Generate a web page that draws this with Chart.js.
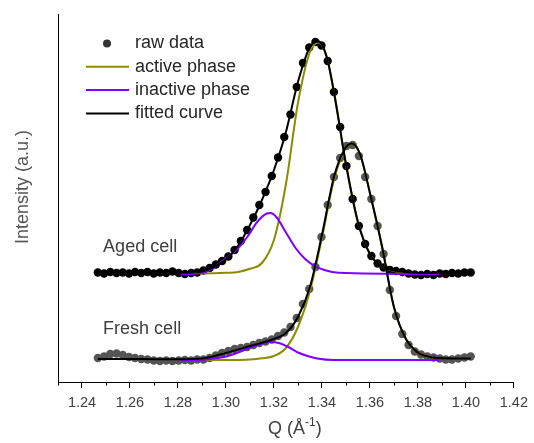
<!DOCTYPE html>
<html lang="en">
<head>
<meta charset="UTF-8">
<title>Aged vs fresh cell</title>
<script src="https://cdn.jsdelivr.net/npm/chart.js@4"></script>
<style>
  body { margin: 0; background: #fff; }
  #wrap { width: 534px; height: 443px; position: relative; }
</style>
</head>
<body>
<div id="wrap"><canvas id="myChart"></canvas></div>
<script>
// raw data, both cells share the same Q grid
const qRaw = [1.2466, 1.2492, 1.2518, 1.2544, 1.2570, 1.2596, 1.2621, 1.2647, 1.2673, 1.2699,
  1.2725, 1.2751, 1.2777, 1.2803, 1.2829, 1.2855, 1.2880, 1.2906, 1.2932, 1.2958,
  1.2984, 1.3010, 1.3036, 1.3062, 1.3088, 1.3114, 1.3139, 1.3165, 1.3191, 1.3217,
  1.3243, 1.3269, 1.3295, 1.3321, 1.3347, 1.3373, 1.3398, 1.3424, 1.3450, 1.3476,
  1.3502, 1.3528, 1.3554, 1.3580, 1.3606, 1.3632, 1.3657, 1.3683, 1.3709, 1.3735,
  1.3761, 1.3787, 1.3813, 1.3839, 1.3865, 1.3891, 1.3916, 1.3942, 1.3968, 1.3994, 1.4020];
const agedRaw = [109.5, 108.5, 110, 109, 109.5, 108.5, 110, 109, 110, 108.5,
  109.5, 109, 110.5, 109, 108, 109, 109.5, 111.5, 114, 117.5,
  121, 125.5, 132, 141, 152, 164.5, 177, 190, 206, 224.5,
  245, 267.5, 295, 319, 334.5, 340, 336.5, 321, 290, 255,
  216, 183, 156, 138, 126, 118.5, 114.5, 112, 111, 110,
  108.5, 107.5, 107, 108, 107, 108.5, 108, 109, 108.5, 109.5, 109.5];
const freshRaw = [24, 25.5, 28, 28.5, 27, 25, 24, 23, 22.5, 21.5,
  21, 21.5, 21, 21.5, 22, 21.5, 22.5, 22.5, 24, 26.5,
  29, 31, 33, 34, 35, 37, 39, 40.5, 42.5, 46,
  49.5, 55, 64, 78, 93, 115, 145, 177, 205, 224,
  236, 237, 226, 205, 183, 156, 128, 92, 66, 48,
  37, 30.5, 27.5, 25.5, 24.5, 23.5, 22.5, 22.5, 23.5, 24.5, 25.5];

// fitted curves and components
const qAgedFit = [1.2466, 1.26, 1.27, 1.28, 1.285, 1.29, 1.295, 1.30, 1.305, 1.31, 1.315, 1.32, 1.325,
  1.33, 1.335, 1.3385, 1.342, 1.345, 1.35, 1.355, 1.36, 1.365, 1.37, 1.375, 1.38, 1.39, 1.402];
const agedFit = [109.3, 109.3, 109.3, 109.3, 109.5, 110.5, 115, 122.5, 136, 157, 182, 212, 250,
  300, 335, 340.5, 325, 290, 218, 160, 128, 115.5, 111.5, 110, 109, 109, 109.3];
const qAgedActive = [1.289, 1.295, 1.30, 1.305, 1.31, 1.315, 1.32, 1.325, 1.33, 1.335, 1.3385,
  1.342, 1.345, 1.35, 1.355, 1.36, 1.365, 1.37, 1.375, 1.38, 1.389];
const agedActive = [108.5, 108.7, 109.2, 110, 113.2, 119, 142, 198, 279, 330, 339.5,
  325, 290, 218, 160, 128, 115.5, 111, 109.5, 108.7, 108.7];
const qAgedInactive = [1.281, 1.289, 1.293, 1.297, 1.301, 1.305, 1.309, 1.313, 1.317, 1.3185,
  1.321, 1.325, 1.329, 1.333, 1.337, 1.341, 1.347, 1.389];
const agedInactive = [107.7, 108.7, 111.5, 118, 125.5, 133.5, 145.5, 160, 168.5, 169,
  165, 149.5, 134, 123, 116, 112, 109.3, 108];

const qFreshFit = [1.2466, 1.255, 1.26, 1.27, 1.28, 1.29, 1.30, 1.31, 1.32, 1.325, 1.33, 1.335, 1.34,
  1.345, 1.3495, 1.3525, 1.356, 1.36, 1.365, 1.37, 1.375, 1.38, 1.385, 1.39, 1.40, 1.402];
const freshFit = [23, 23, 23, 22.8, 22.8, 23.5, 29, 36, 43, 49, 65, 95, 147,
  205, 233, 238.5, 227, 189, 136, 75, 43, 29.5, 25, 23.7, 23.5, 23.5];
const qFreshActive = [1.292, 1.30, 1.31, 1.315, 1.32, 1.325, 1.33, 1.335, 1.34, 1.345,
  1.3495, 1.3525, 1.356, 1.36, 1.365, 1.37, 1.375, 1.38, 1.385, 1.389];
const freshActive = [22, 22, 22.5, 23.7, 26, 34, 55, 91, 144, 202,
  232, 238.5, 227, 189, 136, 75, 43, 29.5, 25, 23.5];
const qFreshInactive = [1.281, 1.29, 1.295, 1.30, 1.305, 1.31, 1.315, 1.3185, 1.322, 1.326,
  1.33, 1.334, 1.338, 1.345, 1.389];
const freshInactive = [22, 22.3, 23.5, 25.5, 29.5, 34.5, 38.5, 40, 39, 35,
  29.5, 26, 23.5, 22, 22];

const xTickLabels = ['1.24', '1.26', '1.28', '1.30', '1.32', '1.34', '1.36', '1.38', '1.40', '1.42'];
const annoText = ['Aged cell', 'Fresh cell'];
const annoQ = [1.2488, 1.2488];
const annoI = [135, 53];

const OLIVE = '#8c8c00';
const PURPLE = '#8000ff';
const FONT = '"Liberation Sans", Arial, sans-serif';

const legendItems = [
  { label: 'raw data', kind: 'dot', color: '#333' },
  { label: 'active phase', kind: 'line', color: OLIVE },
  { label: 'inactive phase', kind: 'line', color: PURPLE },
  { label: 'fitted curve', kind: 'line', color: '#000' }
];

function pts(xs, ys) {
  return xs.map((x, i) => ({ x: x, y: ys[i] }));
}

function curve(data, color, order) {
  return {
    data: data, showLine: true, borderColor: color, borderWidth: 2,
    pointRadius: 0, cubicInterpolationMode: 'monotone', fill: false, order: order
  };
}

function isMajor(v) {
  return Math.round(v * 100) % 2 === 0;
}

// legend, labels, axis titles and minor ticks
const decorPlugin = {
  id: 'decor',
  afterDraw(chart) {
    const ctx = chart.ctx;
    const xs = chart.scales.x;
    const ys = chart.scales.y;
    ctx.save();

    // minor ticks
    ctx.strokeStyle = '#000';
    ctx.lineWidth = 1;
    ctx.beginPath();
    xs.ticks.forEach(t => {
      if (!isMajor(t.value)) {
        const px = Math.round(xs.getPixelForValue(t.value)) + 0.5;
        ctx.moveTo(px, xs.top);
        ctx.lineTo(px, xs.top + 3.5);
      }
    });
    ctx.stroke();

    // legend
    ctx.font = '18px ' + FONT;
    ctx.textBaseline = 'middle';
    ctx.textAlign = 'left';
    legendItems.forEach((item, i) => {
      const y = 43.5 + i * 23.3;
      if (item.kind === 'dot') {
        ctx.fillStyle = item.color;
        ctx.beginPath();
        ctx.arc(107, y, 4, 0, Math.PI * 2);
        ctx.fill();
      } else {
        ctx.strokeStyle = item.color;
        ctx.lineWidth = 2;
        ctx.beginPath();
        ctx.moveTo(86, y);
        ctx.lineTo(129, y);
        ctx.stroke();
      }
      ctx.fillStyle = '#262626';
      ctx.fillText(item.label, 135, y);
    });

    // cell labels
    ctx.fillStyle = '#404040';
    annoText.forEach((txt, i) => {
      ctx.fillText(txt, xs.getPixelForValue(annoQ[i]), ys.getPixelForValue(annoI[i]));
    });

    // y title
    ctx.save();
    ctx.translate(23, 187);
    ctx.rotate(-Math.PI / 2);
    ctx.textAlign = 'center';
    ctx.fillStyle = '#555';
    ctx.fillText('Intensity (a.u.)', 0, 0);
    ctx.restore();

    // x title with superscript
    const big = '18px ' + FONT, small = '12px ' + FONT;
    ctx.font = big;
    const w1 = ctx.measureText('Q (Å').width;
    const w3 = ctx.measureText(')').width;
    ctx.font = small;
    const w2 = ctx.measureText('-1').width;
    let x = (xs.left + xs.right) / 2 + 9 - (w1 + w2 + w3) / 2;
    const y = 429;
    ctx.fillStyle = '#404040';
    ctx.font = big;
    ctx.fillText('Q (Å', x, y);
    x += w1;
    ctx.font = small;
    ctx.fillText('-1', x, y - 6);
    x += w2;
    ctx.font = big;
    ctx.fillText(')', x, y);

    ctx.restore();
  }
};

const ctx = document.getElementById('myChart').getContext('2d');
new Chart(ctx, {
  type: 'scatter',
  data: {
    datasets: [
      { data: pts(qRaw, agedRaw), backgroundColor: '#000', borderWidth: 0, pointRadius: 4.2, showLine: false, order: 5 },
      { data: pts(qRaw, freshRaw), backgroundColor: '#555', borderWidth: 0, pointRadius: 4.2, showLine: false, order: 5 },
      curve(pts(qAgedActive, agedActive), OLIVE, 3),
      curve(pts(qFreshActive, freshActive), OLIVE, 3),
      curve(pts(qAgedInactive, agedInactive), PURPLE, 2),
      curve(pts(qFreshInactive, freshInactive), PURPLE, 2),
      curve(pts(qAgedFit, agedFit), '#000', 1),
      curve(pts(qFreshFit, freshFit), '#000', 1)
    ]
  },
  options: {
    responsive: true,
    maintainAspectRatio: false,
    animation: false,
    layout: { padding: { left: 58, right: 18, top: 14, bottom: 0 } },
    plugins: { legend: { display: false }, tooltip: { enabled: false } },
    scales: {
      x: {
        type: 'linear',
        min: 1.23,
        max: 1.42,
        afterFit(scale) { scale.height = 61; },
        border: { display: true, color: '#000', width: 1 },
        grid: {
          display: true,
          drawOnChartArea: false,
          drawTicks: true,
          tickLength: 6,
          tickColor: c => (c.tick && isMajor(c.tick.value)) ? '#000' : 'rgba(0,0,0,0)'
        },
        ticks: {
          stepSize: 0.01,
          autoSkip: false,
          maxRotation: 0,
          padding: 6,
          color: '#404040',
          font: { family: FONT, size: 14.5 },
          callback: v => {
            const s = (Math.round(v * 100) / 100).toFixed(2);
            return xTickLabels.includes(s) ? s : '';
          }
        }
      },
      y: {
        min: 0,
        max: 368,
        afterFit(scale) { scale.width = 0; },
        border: { display: true, color: '#000', width: 1 },
        grid: { display: false, drawTicks: false },
        ticks: { display: false }
      }
    }
  },
  plugins: [decorPlugin]
});
</script>
</body>
</html>
